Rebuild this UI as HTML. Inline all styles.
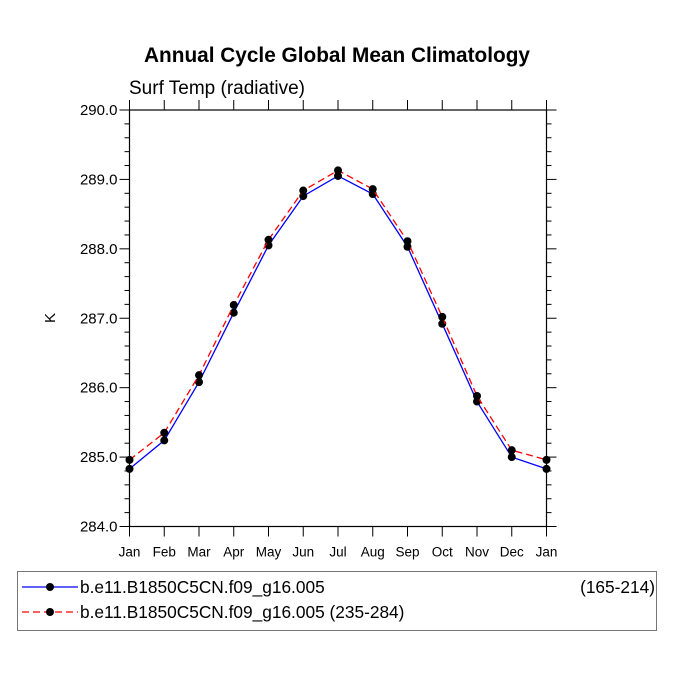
<!DOCTYPE html>
<html><head><meta charset="utf-8"><style>
html,body{margin:0;padding:0;background:#fff;}
svg{display:block;font-family:"Liberation Sans",Arial,sans-serif;}
</style></head><body>
<svg width="675" height="676" viewBox="0 0 675 676">
<text x="337" y="62" text-anchor="middle" font-size="20.8" font-weight="bold">Annual Cycle Global Mean Climatology</text>
<text x="129" y="94" font-size="19">Surf Temp (radiative)</text>
<text x="55" y="318" font-size="15" text-anchor="middle" transform="rotate(-90 55 318)">K</text>
<g id="axes"></g>
<g id="series"></g>
<rect x="17.5" y="571.5" width="639" height="59" fill="none" stroke="#777" stroke-width="1"/>
<g>
<line x1="22" y1="587" x2="78" y2="587" stroke="#0000ff" stroke-width="1.2"/>
<circle cx="50" cy="587" r="4" fill="#000"/>
<text x="80" y="593" font-size="17.3">b.e11.B1850C5CN.f09_g16.005</text>
<text x="655" y="593" font-size="17.3" text-anchor="end">(165-214)</text>
</g>
<g>
<line x1="22" y1="612" x2="78" y2="612" stroke="#ff0000" stroke-width="1.2" stroke-dasharray="7,4"/>
<circle cx="50" cy="612" r="4" fill="#000"/>
<text x="80" y="618" font-size="17.3">b.e11.B1850C5CN.f09_g16.005 (235-284)</text>
</g>
</svg>
<script>
const months=["Jan","Feb","Mar","Apr","May","Jun","Jul","Aug","Sep","Oct","Nov","Dec","Jan"];
const seriesA=[284.83,285.24,286.08,287.08,288.05,288.76,289.05,288.79,288.03,286.92,285.8,285.0,284.83];
const seriesB=[284.96,285.35,286.18,287.19,288.13,288.84,289.13,288.86,288.11,287.02,285.88,285.1,284.96];
const yTicks=["284.0","285.0","286.0","287.0","288.0","289.0","290.0"];
const NS="http://www.w3.org/2000/svg";
const L=129.5,R=546.5,T=110,B=526.5,ymin=284,ymax=290;
const xs=i=>L+(R-L)*i/12;
const ys=v=>B-(v-ymin)/(ymax-ymin)*(B-T);
function mk(t,a,p){const e=document.createElementNS(NS,t);for(const k in a)e.setAttribute(k,a[k]);p.appendChild(e);return e;}
const ax=document.getElementById('axes');
const frame=mk('rect',{x:L,y:T,width:R-L,height:B-T,fill:'none',stroke:'#000','stroke-width':1.2},ax);


for(let v=ymin;v<=ymax+1e-6;v+=0.2){
  const y=ys(v);const major=Math.abs(v-Math.round(v))<1e-6;
  const len=major?10:5;
  mk('line',{x1:L-len,y1:y,x2:L,y2:y,stroke:'#000','stroke-width':1},ax);
  mk('line',{x1:R,y1:y,x2:R+len,y2:y,stroke:'#000','stroke-width':1},ax);
}
yTicks.forEach(s=>{
  const t=mk('text',{x:L-12,y:ys(parseFloat(s))+5,'font-size':15,'text-anchor':'end'},ax);
  t.textContent=s;
  
  
});
months.forEach((m,i)=>{
  const x=xs(i);
  mk('line',{x1:x,y1:B,x2:x,y2:B+10,stroke:'#000','stroke-width':1},ax);
  mk('line',{x1:x,y1:T-10,x2:x,y2:T,stroke:'#000','stroke-width':1},ax);
  const t=mk('text',{x:x,y:B+30,'font-size':13.5,'text-anchor':'middle'},ax);
  t.textContent=m;
  
  
});
const sg=document.getElementById('series');
function draw(vals,color,dash,name){
  const g=mk('g',{},sg);
  
  
  const pts=vals.map((v,i)=>xs(i)+','+ys(v)).join(' ');
  const a={points:pts,fill:'none',stroke:color,'stroke-width':1.3};
  if(dash)a['stroke-dasharray']=dash;
  mk('polyline',a,g);
  vals.forEach((v,i)=>{
    const c=mk('circle',{cx:xs(i),cy:ys(v),r:4,fill:'#000'},g);
    
    
  });
}
draw(seriesA,'#0000ff',null,'series-165-214');
draw(seriesB,'#ff0000','7,4','series-235-284');
</script>
</body></html>
